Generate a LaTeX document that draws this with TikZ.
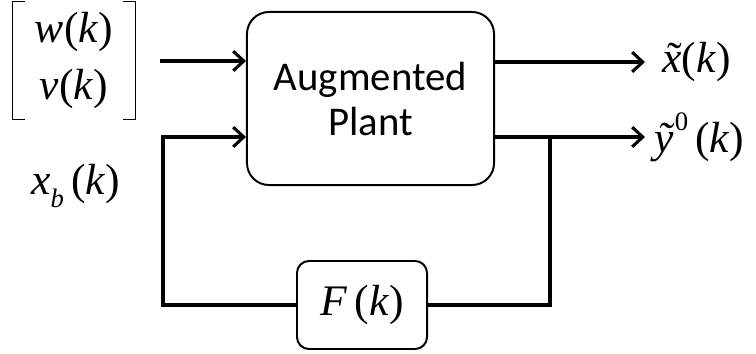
\documentclass[tikz,border=0pt]{standalone}
\usepackage{fontspec}
\setsansfont{Carlito}
\newfontfamily\tnr{Liberation Serif}
\usetikzlibrary{calc,positioning,arrows.meta}

\tikzset{
  block/.style={draw,line width=1.4pt,rounded corners=#1,inner sep=0pt},
  sig/.style={line width=2.2pt,-{Straight Barb[length=7.5pt,width=14pt,line width=2.2pt]}},
  wire/.style={line width=2.2pt},
  bracket/.style={line width=0.8pt},
  mlabel/.style={inner sep=0pt,font=\fontsize{31}{40}\selectfont\tnr}
}
\newcommand{\itk}{(\textit{k})}
\newcommand{\lowsub}[1]{\raisebox{-0.3em}{\fontsize{19}{19}\selectfont\textit{#1}}}
\newcommand{\upsup}[1]{\raisebox{0.5em}{\fontsize{19}{19}\selectfont #1}}
\newcommand{\tld}[1]{\ooalign{\textit{#1}\cr\hidewidth\kern0.12em ˜\hidewidth\cr}}

\begin{document}
\begin{tikzpicture}[x=0.025cm,y=-0.025cm]
\useasboundingbox (0,0) rectangle (756,354);

% blocks
\node[block=0.55cm,minimum width=6.175cm,minimum height=4.325cm,align=center,
      font=\fontsize{29}{32}\selectfont\sffamily] (plant) at (370.5,98.5) {Augmented\\Plant};
\node[block=0.3cm,minimum width=3.25cm,minimum height=2.2cm,mlabel] (fbox) at (362,305)
     {\textit{F}\,\itk};

% stacked input with brackets
\node[mlabel,align=center,minimum width=3.05cm,minimum height=2.925cm] (wv) at (74,60.5)
     {\textit{w}\itk\\\textit{v}\itk};
\draw[bracket] ($(wv.north west)+(12,0)$) -- (wv.north west) -- (wv.south west) -- ++(12,0);
\draw[bracket] ($(wv.north east)+(-12,0)$) -- (wv.north east) -- (wv.south east) -- ++(-12,0);
\node[mlabel,anchor=west] (xb) at (31,186) {\textit{x}\lowsub{b}\,\itk};

% inputs
\coordinate (in1) at (160,61);
\coordinate (in2) at (163,137);
\draw[sig] (in1) -- (in1 -| plant.west);
\draw[sig] (fbox.west) -| (in2) -- (in2 -| plant.west);

% outputs
\coordinate (out1) at (645,62);
\coordinate (out2) at (645,137);
\coordinate (tap) at (550,137);
\draw[sig] (out1 -| plant.east) -- (out1) node[mlabel,anchor=west,xshift=0.4cm] (xt) {\tld{x}\itk};
\draw[sig] (out2 -| plant.east) -- (out2) node[mlabel,anchor=west,xshift=0.2cm] (yt) {\textit{ỹ}\upsup{0}\,\itk};
\draw[wire] (tap) |- (fbox.east);

\end{tikzpicture}
\end{document}
